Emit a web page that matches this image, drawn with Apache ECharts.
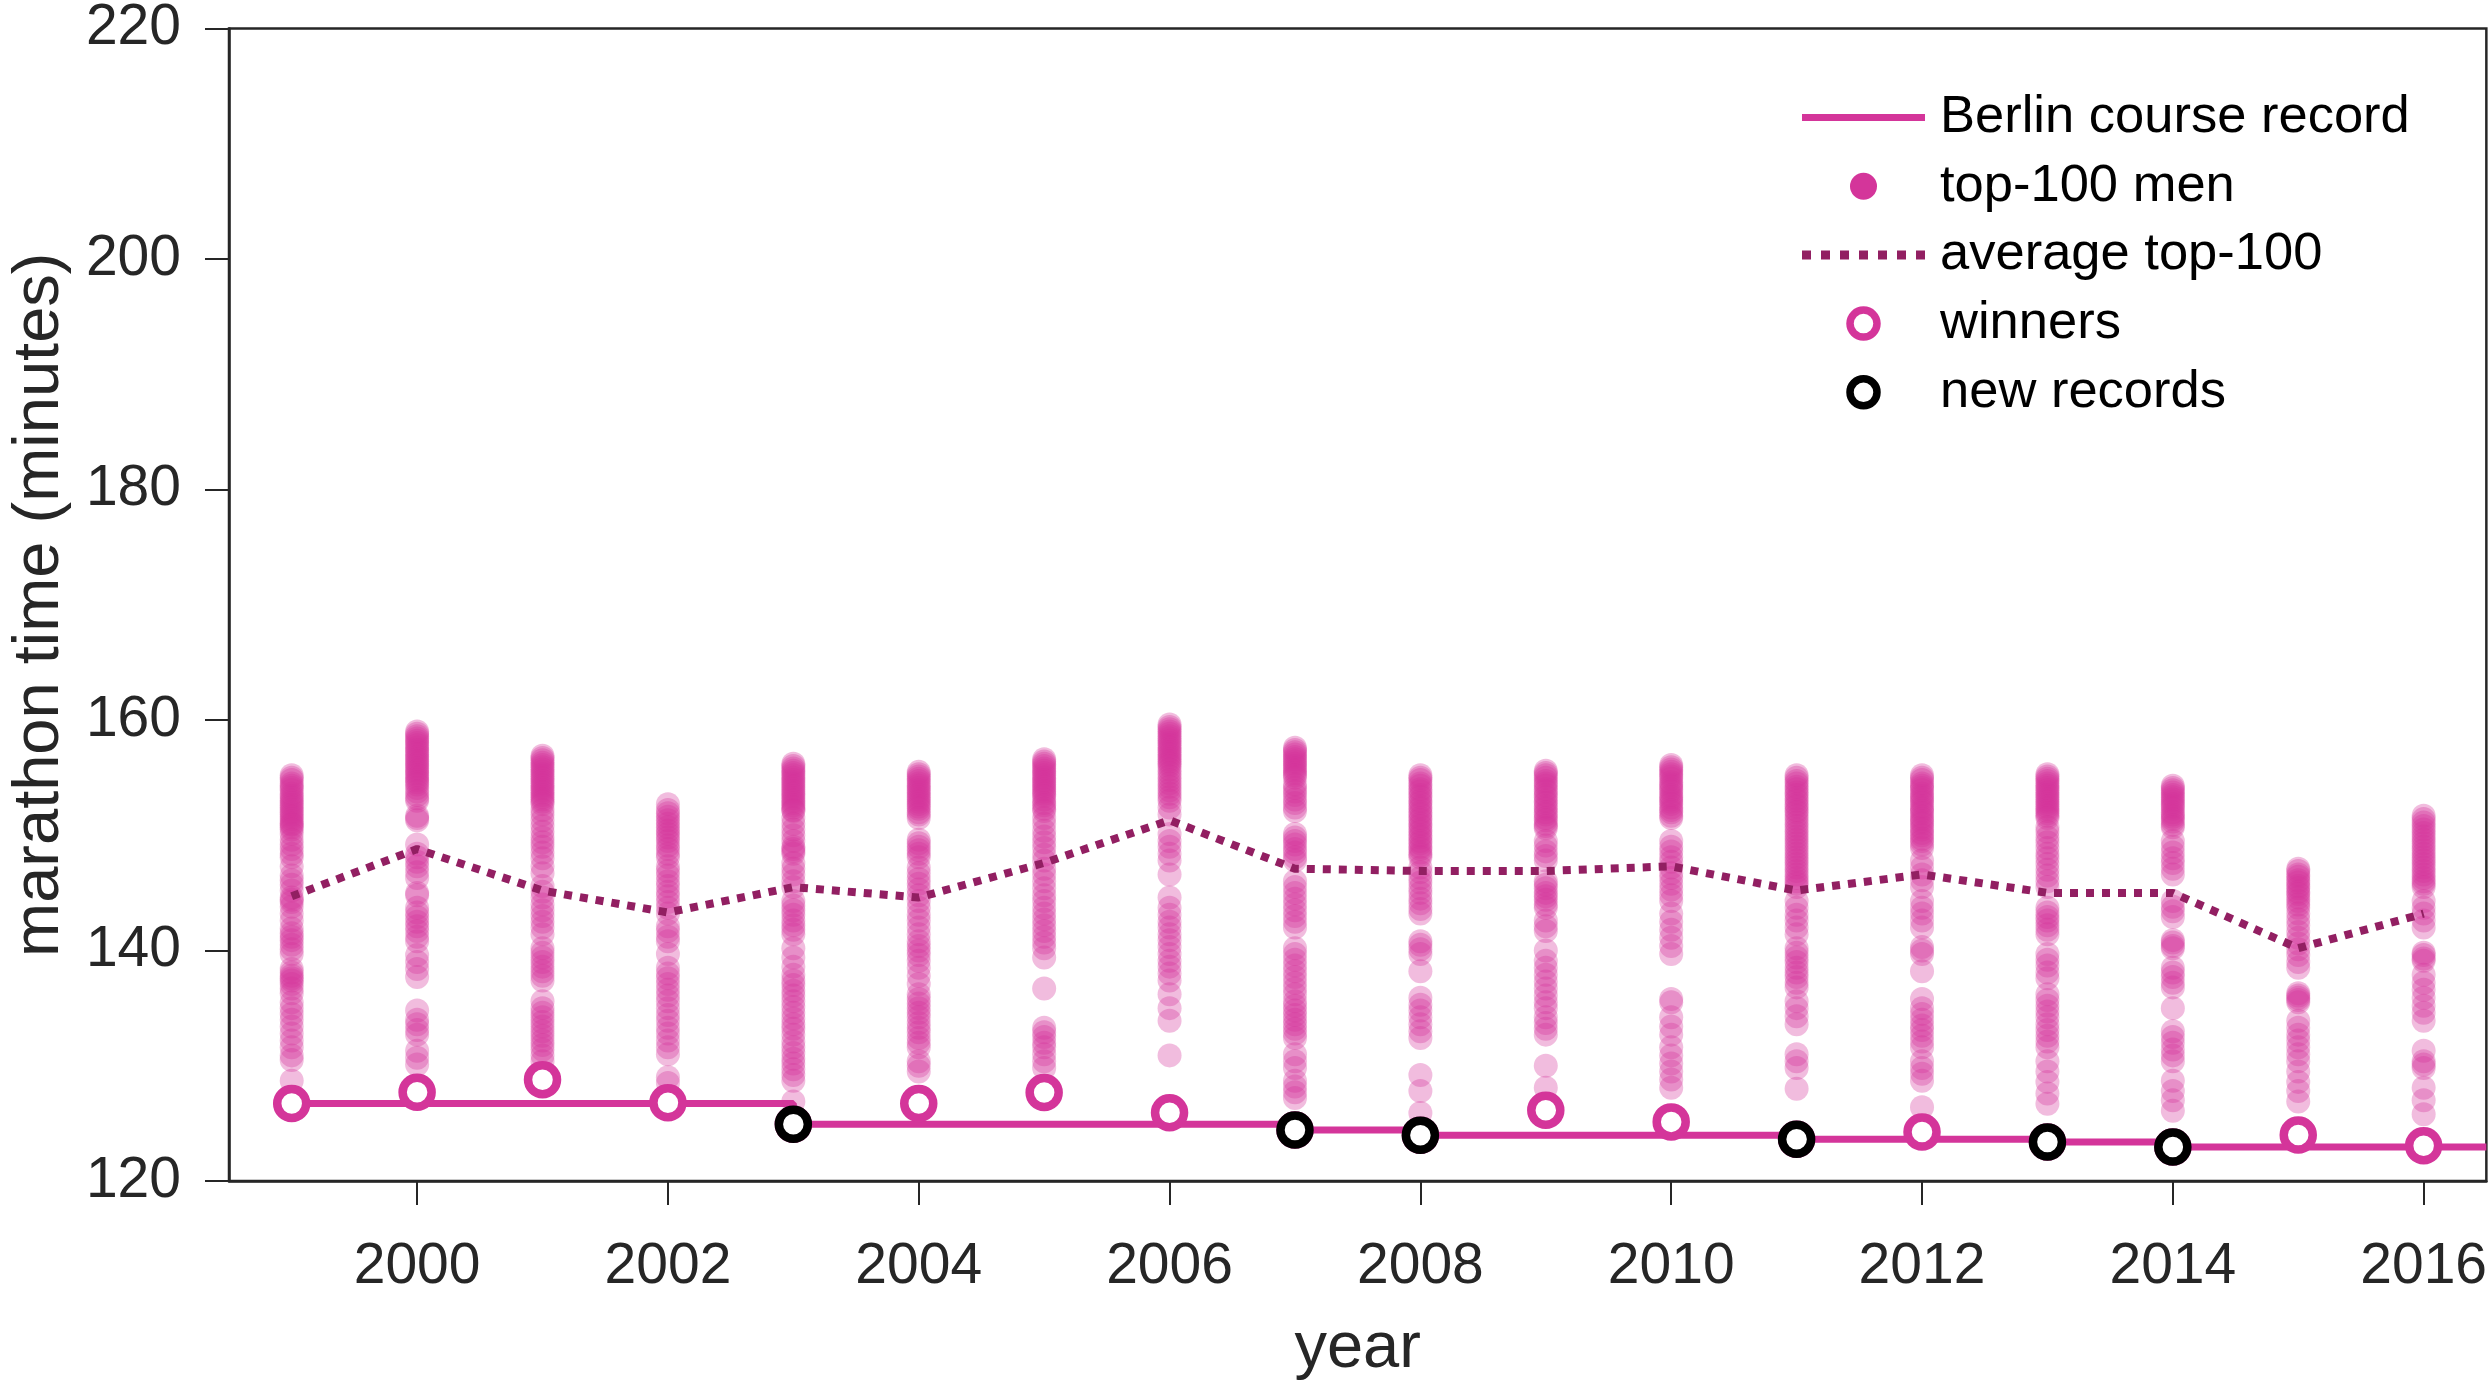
<!DOCTYPE html>
<html>
<head>
<meta charset="utf-8">
<script src="https://cdn.jsdelivr.net/npm/echarts@6/dist/echarts.min.js"></script>
<style>
html, body { margin: 0; padding: 0; background: #fff; }
#chart { width: 2490px; height: 1391px; }
</style>
</head>
<body>
<div id="chart"></div>
<script>
// ---------- data ----------
const years = [1999, 2000, 2001, 2002, 2003, 2004, 2005, 2006, 2007, 2008, 2009, 2010, 2011, 2012, 2013, 2014, 2015, 2016];
const xTicks = [2000, 2002, 2004, 2006, 2008, 2010, 2012, 2014, 2016];

const winnerTimes = [126.73, 127.70, 128.78, 126.78, 124.92, 126.73, 127.68, 125.93, 124.43, 123.98, 126.13, 125.13, 123.63, 124.25, 123.38, 122.95, 124.00, 123.05];
const recordYears = [2003, 2007, 2008, 2011, 2013, 2014];
const recordTimes = [124.92, 124.43, 123.98, 123.63, 123.38, 122.95];
// course record step line (value holds until the next change)
const courseRecordX = [1999, 2003, 2007, 2008, 2011, 2013, 2014, 2016.5];
const courseRecordY = [126.73, 124.92, 124.43, 123.98, 123.63, 123.38, 122.95, 122.95];

const averageTop100 = [144.7, 148.8, 145.2, 143.3, 145.5, 144.6, 147.6, 151.3, 147.1, 146.9, 146.9, 147.3, 145.2, 146.6, 145.0, 145.0, 140.2, 143.2];

const top100_1999 = [155.2,155.0,154.8,154.5,154.3,154.1,153.9,153.6,153.4,153.2,153.0,152.8,152.6,152.4,152.2,152.0,151.8,151.6,151.4,151.2,151.0,150.9,150.7,150.5,150.1,149.6,149.2,148.8,148.4,148.1,147.3,146.5,146.1,145.7,145.2,144.6,144.4,144.2,143.8,143.2,142.6,141.9,141.5,141.2,140.9,140.5,140.1,139.7,138.4,138.1,137.8,137.6,137.4,137.1,136.7,136.3,135.5,135.0,134.5,134.0,133.4,132.8,132.2,131.6,130.9,130.5,128.7];
const top100_2000 = [159.0,158.8,158.6,158.4,158.2,158.0,157.8,157.6,157.4,157.2,157.0,156.8,156.6,156.4,156.2,156.0,155.8,155.6,155.4,155.2,155.0,154.8,154.6,154.4,154.1,153.8,153.5,153.2,153.0,151.7,151.5,151.3,149.2,148.4,148.1,147.7,147.3,146.8,146.3,145.0,144.8,143.7,143.3,142.9,142.5,142.1,141.7,141.2,140.8,139.6,139.0,138.4,137.7,134.8,134.0,133.6,133.1,132.7,131.3,130.7,130.1];
const top100_2001 = [156.9,156.7,156.5,156.3,156.1,155.9,155.7,155.5,155.3,155.1,154.9,154.7,154.5,154.3,154.1,153.9,153.7,153.5,153.3,153.1,152.9,152.7,152.2,151.8,151.3,150.8,150.3,149.8,149.4,149.0,148.5,148.0,147.3,146.7,145.6,145.1,144.6,144.0,143.5,143.0,142.5,142.0,141.4,140.2,139.8,139.4,139.0,138.6,138.2,137.8,137.4,135.6,135.0,134.6,134.2,133.8,133.4,133.0,132.6,132.2,131.8,131.4,130.9,130.4];
const top100_2002 = [152.7,152.2,151.9,151.6,151.3,151.0,150.7,150.4,150.1,149.8,149.5,149.1,148.8,148.4,148.1,147.3,146.9,146.5,146.0,145.6,145.1,144.7,144.2,143.7,143.2,142.1,141.7,141.2,140.8,139.7,138.5,138.0,137.6,137.1,136.6,136.1,135.6,135.0,134.4,133.9,133.3,132.8,132.2,131.6,131.0,129.0,128.5];
const top100_2003 = [156.2,156.0,155.8,155.6,155.4,155.2,155.0,154.8,154.6,154.4,154.2,154.0,153.8,153.6,153.4,153.2,153.0,152.8,152.6,152.4,152.2,152.1,151.5,151.0,150.5,150.0,149.5,149.0,148.8,148.6,148.4,147.6,147.1,146.6,146.0,145.5,144.3,143.9,143.5,143.1,142.6,142.2,141.8,141.4,140.2,139.4,138.6,137.9,137.4,137.0,136.5,136.1,135.6,135.1,134.6,134.1,133.6,133.2,132.7,132.1,131.6,131.1,130.6,130.2,129.7,129.2,128.7,126.9];
const top100_2004 = [155.5,155.3,155.1,154.9,154.7,154.5,154.3,154.1,153.9,153.7,153.5,153.3,153.1,152.9,152.7,152.5,152.3,152.0,151.8,151.5,149.6,149.3,149.0,148.7,148.4,148.1,147.2,146.7,146.2,145.8,145.3,144.8,144.3,143.7,143.1,142.6,142.0,141.4,140.8,140.4,140.0,139.6,139.1,138.5,137.8,137.1,136.2,135.8,135.4,135.0,134.6,134.2,133.7,133.3,132.9,132.4,132.0,131.6,130.4,130.0,129.5];
const top100_2005 = [156.6,156.4,156.2,156.0,155.8,155.6,155.4,155.2,155.0,154.8,154.6,154.4,154.2,154.0,153.8,153.6,153.4,153.1,152.8,152.6,152.3,152.1,151.5,151.0,150.4,149.9,149.4,148.9,148.3,147.8,147.1,146.6,146.0,145.4,144.8,144.3,143.7,143.2,142.7,142.2,141.7,141.2,140.7,140.2,139.4,136.7,133.3,132.9,132.5,132.0,131.6,131.0,130.4,129.8];
const top100_2006 = [159.6,159.4,159.2,159.0,158.8,158.6,158.4,158.2,158.0,157.8,157.6,157.4,157.2,157.0,156.8,156.6,156.4,156.2,156.0,155.7,155.4,155.1,154.8,154.5,154.2,153.9,153.6,153.3,153.0,152.4,151.8,150.1,149.5,149.0,148.4,147.8,146.6,144.6,143.7,143.1,142.5,142.0,141.4,140.9,140.3,139.7,139.1,138.6,138.0,137.4,136.2,135.0,133.9,130.9];
const top100_2007 = [157.6,157.4,157.2,157.0,156.8,156.6,156.4,156.2,156.0,155.8,155.6,155.4,155.2,155.0,154.4,154.1,153.8,153.5,153.1,152.8,152.4,152.1,150.1,149.8,149.5,149.2,148.8,148.5,148.1,147.8,146.0,145.5,145.0,144.5,144.0,143.5,143.0,142.5,142.0,140.2,139.7,139.2,138.7,138.2,137.7,137.2,136.7,136.2,135.6,135.2,134.8,134.4,134.0,133.6,133.2,132.8,132.4,131.0,130.4,129.8,128.7,128.2,127.7,127.2];
const top100_2008 = [155.2,155.0,154.8,154.5,154.3,154.0,153.8,153.5,153.3,153.0,152.8,152.5,152.3,152.0,151.8,151.5,151.3,151.0,150.8,150.5,150.3,150.0,149.8,149.5,149.3,149.0,148.8,148.5,148.3,148.1,147.2,146.8,146.3,145.9,145.4,145.0,144.5,144.1,143.6,143.2,140.8,140.5,140.1,139.7,138.2,135.9,135.3,134.8,134.2,133.6,133.0,132.4,129.2,127.8,125.9];
const top100_2009 = [155.6,155.4,155.2,155.0,154.7,154.5,154.3,154.0,153.8,153.5,153.3,153.0,152.8,152.5,152.3,152.0,151.8,151.5,151.3,151.0,150.8,150.6,149.5,149.1,148.6,148.2,147.8,146.0,145.7,145.4,145.0,144.7,144.4,144.0,143.7,142.6,142.1,141.7,140.0,139.1,138.5,137.9,137.3,136.7,136.1,135.5,135.0,134.2,133.7,133.2,132.7,130.0,128.1];
const top100_2010 = [156.1,155.9,155.7,155.5,155.3,155.1,154.9,154.6,154.4,154.2,154.0,153.8,153.5,153.3,153.1,152.9,152.7,152.4,152.2,152.0,151.7,151.5,149.5,149.0,148.6,148.1,147.7,147.2,146.7,146.3,145.8,145.3,144.8,144.3,143.2,142.5,141.8,141.1,140.4,139.7,135.8,135.5,134.2,133.4,132.7,131.6,130.9,130.2,129.5,128.8,128.1];
const top100_2011 = [155.2,155.0,154.7,154.5,154.2,154.0,153.7,153.5,153.2,153.0,152.7,152.5,152.2,152.0,151.7,151.4,151.1,150.8,150.5,150.2,149.9,149.6,149.3,149.0,148.7,148.4,148.1,147.8,147.5,147.2,146.9,146.6,146.3,146.0,145.8,145.5,144.3,143.7,143.1,142.6,142.0,141.4,140.2,139.8,139.4,139.0,138.5,138.1,137.7,137.2,136.8,135.6,135.0,134.3,133.6,131.0,130.4,129.8,128.0];
const top100_2012 = [155.2,155.0,154.8,154.5,154.3,154.1,153.9,153.6,153.4,153.2,153.0,152.8,152.5,152.3,152.1,151.9,151.6,151.4,151.2,151.0,150.7,150.5,150.2,150.0,149.7,149.5,149.2,148.9,147.8,147.2,146.6,146.1,145.5,144.3,143.7,143.2,142.6,142.0,140.3,140.0,139.7,138.2,135.8,135.0,134.5,134.0,133.5,133.1,132.6,132.1,131.6,130.4,129.8,129.3,128.7,126.4];
const top100_2013 = [155.3,155.1,154.9,154.7,154.5,154.3,154.1,153.9,153.7,153.5,153.3,153.1,152.9,152.7,152.5,152.3,152.1,151.9,151.7,151.5,150.7,150.3,149.8,149.4,148.9,148.4,148.0,147.5,147.0,146.5,146.0,145.5,143.7,143.3,142.9,142.6,142.2,141.8,141.4,139.7,139.2,138.7,138.1,137.6,136.2,135.7,135.2,134.7,134.2,133.6,133.1,132.6,132.1,131.6,130.4,129.5,128.6,127.6,126.7];
const top100_2014 = [154.3,154.1,153.9,153.7,153.5,153.3,153.1,152.9,152.7,152.5,152.3,152.0,151.8,151.6,151.4,151.2,150.9,150.7,149.5,149.0,148.5,148.0,147.6,147.1,146.6,144.3,143.8,143.4,142.9,140.9,140.7,140.4,140.2,138.5,138.1,137.7,137.2,136.8,135.0,133.0,132.5,132.0,131.4,130.9,130.4,128.7,127.8,127.0,126.1];
const top100_2015 = [147.1,146.9,146.6,146.4,146.1,145.9,145.6,145.4,145.1,144.9,144.6,144.3,144.0,143.7,143.2,142.7,142.2,141.6,141.1,140.6,140.1,139.6,139.0,138.5,136.3,136.1,135.9,135.7,135.5,133.9,133.3,132.7,132.2,131.6,131.0,130.4,129.5,128.6,127.8,126.9];
const top100_2016 = [151.7,151.4,151.1,150.8,150.5,150.2,149.9,149.6,149.3,149.0,148.7,148.4,148.1,147.8,147.5,147.2,146.9,146.6,146.3,146.0,145.8,145.5,144.3,143.7,143.2,142.6,142.0,139.8,139.6,139.3,139.1,137.9,137.2,136.6,135.9,135.2,134.6,133.9,131.3,130.4,130.1,129.8,128.1,127.0,125.8];

const top100ByYear = [top100_1999, top100_2000, top100_2001, top100_2002, top100_2003, top100_2004, top100_2005, top100_2006, top100_2007, top100_2008, top100_2009, top100_2010, top100_2011, top100_2012, top100_2013, top100_2014, top100_2015, top100_2016];

// ---------- styling ----------
const MAGENTA = '#D4359A';
const PURPLE = '#921F62';
const AXIS = '#262626';
const FONT = '"Liberation Sans", Arial, Helvetica, sans-serif';

const scatterData = [];
years.forEach((y, i) => top100ByYear[i].forEach(v => scatterData.push([y, v])));
const avgData = years.map((y, i) => [y, averageTop100[i]]);
const winnerData = years.map((y, i) => [y, winnerTimes[i]]);
const recordData = recordYears.map((y, i) => [y, recordTimes[i]]);
const courseData = courseRecordX.map((x, i) => [x, courseRecordY[i]]);

const chart = echarts.init(document.getElementById('chart'), null, { renderer: 'canvas' });

const barIcon = 'path://M0,0 M0,9.5 L123,9.5 L123,16.5 L0,16.5 Z M123,26';
const dotsIcon = 'path://M0,0 M0,8.5 L9,8.5 L9,17.5 L0,17.5 Z M19,8.5 L28,8.5 L28,17.5 L19,17.5 Z M38,8.5 L47,8.5 L47,17.5 L38,17.5 Z M57,8.5 L66,8.5 L66,17.5 L57,17.5 Z M76,8.5 L85,8.5 L85,17.5 L76,17.5 Z M95,8.5 L104,8.5 L104,17.5 L95,17.5 Z M114,8.5 L123,8.5 L123,17.5 L114,17.5 Z M123,26';

chart.setOption({
  animation: false,
  backgroundColor: '#fff',
  textStyle: { fontFamily: FONT },
  grid: {
    left: 227, right: 2, top: 27, bottom: 210,
    show: true, borderColor: AXIS, borderWidth: 2.5, backgroundColor: 'transparent'
  },
  legend: {
    orient: 'vertical',
    left: 1802,
    top: 91,
    padding: 0,
    itemWidth: 123,
    itemHeight: 27,
    itemGap: 15.7,
    selectedMode: false,
    textStyle: { fontSize: 52.5, color: '#000', fontFamily: FONT, lineHeight: 51, padding: [0, 0, 0, 10] },
    data: [
      { name: 'Berlin course record', icon: barIcon, itemStyle: { color: MAGENTA, borderWidth: 0, opacity: 1 } },
      { name: 'top-100 men', icon: 'circle', itemStyle: { color: MAGENTA, borderWidth: 0, opacity: 1 } },
      { name: 'average top-100', icon: dotsIcon, itemStyle: { color: PURPLE, borderWidth: 0, opacity: 1 } },
      { name: 'winners', icon: 'circle', itemStyle: { color: '#fff', borderColor: MAGENTA, borderWidth: 7.5, opacity: 1 } },
      { name: 'new records', icon: 'circle', itemStyle: { color: '#fff', borderColor: '#000', borderWidth: 7.5, opacity: 1 } }
    ]
  },
  xAxis: {
    type: 'value',
    min: 1998.5,
    max: 2016.5,
    name: 'year',
    nameLocation: 'middle',
    nameGap: 136,
    nameTextStyle: { fontSize: 65, color: AXIS, fontFamily: FONT },
    axisLine: { show: true, onZero: false, lineStyle: { color: AXIS, width: 2.5 } },
    axisTick: { show: true, inside: false, length: 24, customValues: xTicks, lineStyle: { color: AXIS, width: 2 } },
    axisLabel: { show: true, margin: 58, fontSize: 57, color: AXIS, fontFamily: FONT, customValues: xTicks, formatter: v => String(v) },
    splitLine: { show: false }
  },
  yAxis: {
    type: 'value',
    min: 120,
    max: 220,
    interval: 20,
    name: 'marathon time (minutes)',
    nameLocation: 'middle',
    nameGap: 156,
    nameTextStyle: { fontSize: 65, color: AXIS, fontFamily: FONT },
    axisLine: { show: true, onZero: false, lineStyle: { color: AXIS, width: 2.5 } },
    axisTick: { show: true, inside: false, length: 24, lineStyle: { color: AXIS, width: 2 } },
    axisLabel: { show: true, margin: 48, fontSize: 57, color: AXIS, fontFamily: FONT },
    splitLine: { show: false }
  },
  series: [
    {
      name: 'top-100 men',
      type: 'scatter',
      z: 1,
      data: scatterData,
      symbol: 'circle',
      symbolSize: 24,
      itemStyle: { color: MAGENTA, opacity: 0.33, borderWidth: 0 },
      emphasis: { disabled: true },
      silent: true
    },
    {
      name: 'Berlin course record',
      type: 'line',
      z: 2,
      data: courseData,
      step: 'end',
      showSymbol: false,
      symbol: 'none',
      lineStyle: { color: MAGENTA, width: 7 },
      itemStyle: { color: MAGENTA },
      emphasis: { disabled: true },
      silent: true
    },
    {
      name: 'average top-100',
      type: 'line',
      z: 3,
      data: avgData,
      showSymbol: false,
      symbol: 'none',
      lineStyle: { color: PURPLE, width: 8, type: 'dotted', cap: 'butt' },
      itemStyle: { color: PURPLE },
      emphasis: { disabled: true },
      silent: true
    },
    {
      name: 'winners',
      type: 'scatter',
      z: 4,
      data: winnerData,
      symbol: 'circle',
      symbolSize: 29,
      itemStyle: { color: '#fff', borderColor: MAGENTA, borderWidth: 8.5, opacity: 1 },
      emphasis: { disabled: true },
      silent: true
    },
    {
      name: 'new records',
      type: 'scatter',
      z: 5,
      data: recordData,
      symbol: 'circle',
      symbolSize: 29,
      itemStyle: { color: '#fff', borderColor: '#000', borderWidth: 8.5, opacity: 1 },
      emphasis: { disabled: true },
      silent: true
    }
  ]
});
</script>
</body>
</html>
